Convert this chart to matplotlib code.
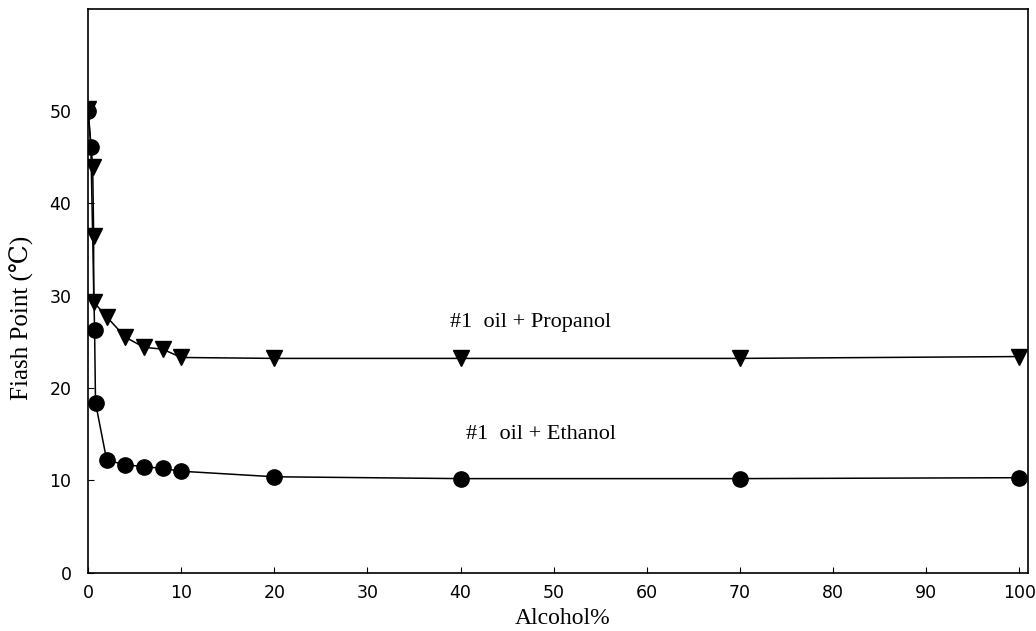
import numpy as np
import matplotlib
matplotlib.use("Agg")
import matplotlib.pyplot as plt

# data
prop_x = [0, 0.5, 0.6, 0.6, 2, 4, 6, 8, 10, 20, 40, 70, 100]
prop_y = [50.2, 43.9, 36.4, 29.3, 27.7, 25.5, 24.4, 24.2, 23.3, 23.2, 23.2, 23.2, 23.4]

eth_x = [0, 0.3, 0.7, 0.8, 2, 4, 6, 8, 10, 20, 40, 70, 100]
eth_y = [49.9, 46.1, 26.3, 18.4, 12.2, 11.7, 11.5, 11.3, 11.0, 10.4, 10.2, 10.2, 10.3]

xticks = [0, 10, 20, 30, 40, 50, 60, 70, 80, 90, 100]
yticks = [0, 10, 20, 30, 40, 50]

serif = ["Liberation Serif", "DejaVu Serif"]

fig = plt.figure(figsize=(10.36, 6.31), dpi=100)
ax = fig.add_axes([0.085, 0.092, 0.907, 0.894])

ax.plot(prop_x, prop_y, color="black", lw=1.1, marker="v", markersize=11)
ax.plot(eth_x, eth_y, color="black", lw=1.1, marker="o", markersize=11)

ax.text(47.5, 27.1, "#1  oil + Propanol", ha="center", va="center",
        fontsize=16, family=serif)
ax.text(48.6, 15.0, "#1  oil + Ethanol", ha="center", va="center",
        fontsize=16, family=serif)

ax.set_xlim(0, 100.9)
ax.set_ylim(0, 61)
ax.set_xticks(xticks)
ax.set_yticks(yticks)
ax.tick_params(direction="in", length=4, labelsize=12.5)
ax.tick_params(axis="x", pad=8)
ax.tick_params(axis="y", pad=12)
for s in ax.spines.values():
    s.set_linewidth(1.2)

ax.set_xlabel("Alcohol%", fontsize=17, family=serif)
ax.set_ylabel("Fiash Point (℃)", fontsize=18, family=serif)
ax.xaxis.set_label_coords(0.505, -0.062)
ax.yaxis.set_label_coords(-0.057, 0.452)

fig.savefig("out.png", dpi=100)
